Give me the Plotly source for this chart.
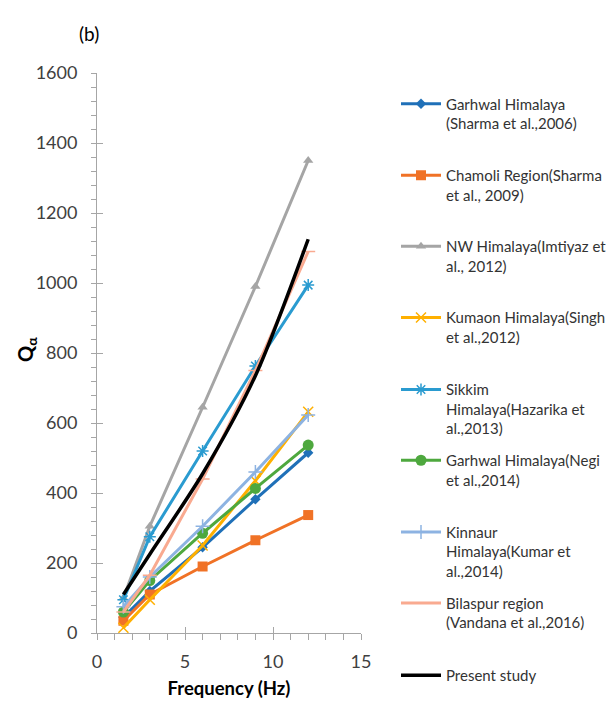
import plotly.graph_objects as go

freq = [1.5, 3, 6, 9, 12]
garhwal_sharma = [45, 120, 245, 382, 515]
chamoli = [35, 110, 190, 265, 337]
nw_himalaya = [100, 305, 645, 990, 1350]
kumaon = [15, 95, 250, 435, 632]
sikkim = [95, 275, 520, 763, 994]
garhwal_negi = [60, 150, 285, 413, 537]
kinnaur = [75, 160, 305, 460, 623]
bilaspur = [60, 165, 440, 750, 1090]
present = [110, 225, 455, 735, 1125]

names = [
    "Garhwal Himalaya<br>(Sharma et al.,2006)",
    "Chamoli Region(Sharma<br>et al., 2009)",
    "NW Himalaya(Imtiyaz et<br>al., 2012)",
    "Kumaon Himalaya(Singh<br>et al.,2012)",
    "Sikkim<br>Himalaya(Hazarika et<br>al.,2013)",
    "Garhwal Himalaya(Negi<br>et al.,2014)",
    "Kinnaur<br>Himalaya(Kumar et<br>al.,2014)",
    "Bilaspur region<br>(Vandana et al.,2016)",
    "Present study",
]
series = [garhwal_sharma, chamoli, nw_himalaya, kumaon, sikkim,
          garhwal_negi, kinnaur, bilaspur, present]
colors = ["#1F70B8", "#F07226", "#A5A5A5", "#FFB000", "#2A9BD0",
          "#4EA83E", "#8DB3E2", "#F9AA90", "#000000"]
symbols = ["diamond", "square", "triangle-up", "x-thin-open", "asterisk-open",
           "circle", "cross-thin-open", "line-ew-open", None]
msizes = [8, 10, 9, 10, 10, 11, 10, 10, 0]

W, H = 611, 705
L, R, T, B = 97, 361, 73, 633


def px_x(x):
    return (x - L) / (R - L)


def px_y(y):
    return (B - y) / (B - T)


legend_sym_y = [103.5, 175, 246, 317.3, 389.3, 460, 531.7, 602.7, 675]

fig = go.Figure()
layout_legends = {}
for i, (nm, vals, col, sym, ms) in enumerate(zip(names, series, colors, symbols, msizes)):
    lg = "legend" if i == 0 else f"legend{i+1}"
    if sym is None:
        tr = go.Scatter(x=freq, y=vals, mode="lines", name=nm,
                        line=dict(color=col, width=3.5, shape="spline", smoothing=0.8),
                        legend=lg)
    else:
        tr = go.Scatter(x=freq, y=vals, mode="lines+markers", name=nm,
                        line=dict(color=col, width=3),
                        marker=dict(symbol=sym, size=ms, color=col,
                                    line=dict(color=col, width=1.5 if "open" in sym else 0)),
                        legend=lg)
    fig.add_trace(tr)
    layout_legends[lg] = dict(
        x=px_x(396), xanchor="left",
        y=px_y(legend_sym_y[i] - 16), yanchor="top",
        valign="top", bgcolor="rgba(0,0,0,0)",
        font=dict(family="Lato", size=15, color="#333333"),
        itemwidth=40,
    )

fig.update_layout(**layout_legends)

axis_col = "#A6A6A6"
fig.update_layout(
    width=W, height=H,
    margin=dict(l=L, r=W - R, t=T, b=H - B, autoexpand=False),
    paper_bgcolor="white", plot_bgcolor="white",
    font=dict(family="Lato", color="#404040"),
    xaxis=dict(range=[0, 15], dtick=5, tick0=0, showgrid=False, zeroline=False,
               showline=True, linecolor=axis_col, linewidth=1,
               ticks="outside", ticklen=6, tickcolor=axis_col,
               minor=dict(dtick=1, ticks="outside", ticklen=6, tickcolor=axis_col),
               tickfont=dict(family="Lato", size=18, color="#404040"),
               ticklabelstandoff=6,
               title=dict(text="<b>Frequency (Hz)</b>",
                          font=dict(family="Lato", size=18.5, color="#000000"),
                          standoff=11)),
    yaxis=dict(range=[0, 1600], dtick=200, tick0=0, showgrid=False, zeroline=False,
               showline=True, linecolor=axis_col, linewidth=1,
               ticks="outside", ticklen=5, tickcolor=axis_col,
               minor=dict(dtick=40, ticks="outside", ticklen=5, tickcolor=axis_col),
               tickfont=dict(family="Lato", size=18, color="#404040"),
               ticklabelstandoff=10),
    xaxis2=dict(range=[0, 15], dtick=5, tick0=0, overlaying="x", anchor="y",
                showgrid=False, zeroline=False, showticklabels=False,
                ticks="inside", ticklen=6, tickcolor=axis_col),
    yaxis2=dict(range=[0, 1600], dtick=200, tick0=0, overlaying="y", anchor="x",
                showgrid=False, zeroline=False, showticklabels=False,
                ticks="inside", ticklen=6, tickcolor=axis_col),
)

# invisible trace to activate overlay axes
fig.add_trace(go.Scatter(x=[None], y=[None], xaxis="x2", yaxis="y2",
                         showlegend=False, hoverinfo="skip"))

fig.add_annotation(text="<b>Q<sub>α</sub></b>", xref="paper", yref="paper",
                   x=px_x(26), xanchor="center", y=px_y(350), textangle=-90,
                   showarrow=False,
                   font=dict(family="Lato", size=20, color="#000000"))
fig.add_annotation(text="(b)", xref="paper", yref="paper",
                   x=px_x(77), y=px_y(20), showarrow=False,
                   font=dict(family="Lato", size=19, color="#000000"))

fig.write_html("out.html")
